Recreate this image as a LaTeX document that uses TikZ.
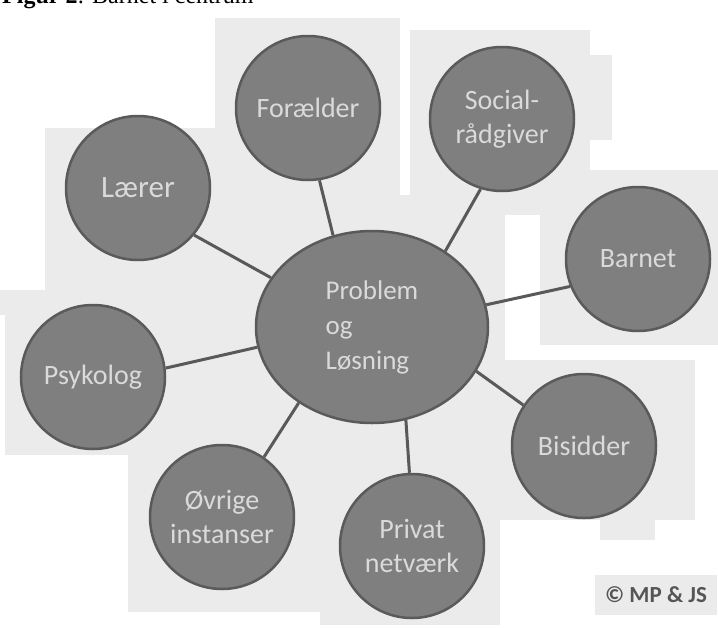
\documentclass[tikz,border=0pt]{standalone}
\usepackage{fontspec}
\setmainfont{Carlito}
\newfontfamily\capfont{Liberation Serif}
\usetikzlibrary{shapes.geometric}
\definecolor{bgg}{HTML}{EBEBEB}
\definecolor{circfill}{HTML}{7F7F7F}
\definecolor{circline}{HTML}{5A5A5A}
\definecolor{txtc}{HTML}{DADADA}
\definecolor{linec}{HTML}{595959}
\definecolor{copyc}{HTML}{555555}
\tikzset{
  bubble/.style={circle, draw=circline, line width=2.5pt, fill=circfill,
    minimum size=144pt, inner sep=0pt, text=txtc,
    font=\fontsize{28}{34}\selectfont, align=center},
  hub/.style={ellipse, draw=circline, line width=2.5pt, fill=circfill,
    minimum width=232pt, minimum height=192pt, inner sep=0pt, text=txtc,
    font=\fontsize{27}{35}\selectfont, align=left},
  link/.style={draw=linec, line width=3pt},
  patch/.style={fill=bgg, draw=none},
}
\begin{document}
\begin{tikzpicture}[x=1pt,y=-1pt]
\useasboundingbox (0,0) rectangle (718,627);
% background patches
\fill[patch] (215,18) rectangle (400,200);
\fill[patch] (410,30) rectangle (590,215);
\fill[patch] (590,55) rectangle (612,140);
\fill[patch] (45,128) rectangle (240,292);
\fill[patch] (0,290) rectangle (255,315);
\fill[patch] (540,170) rectangle (718,345);
\fill[patch] (230,195) rectangle (505,465);
\fill[patch] (5,300) rectangle (250,455);
\fill[patch] (128,455) rectangle (320,612);
\fill[patch] (480,360) rectangle (695,520);
\fill[patch] (320,440) rectangle (500,625);
\fill[patch] (600,460) rectangle (655,540);
% caption (cut at top, as in the reference)
\node[anchor=base west, inner sep=0pt] (cap) at (2,3)
  {\capfont\fontsize{24}{24}\selectfont\textbf{Figur 2}: Barnet i centrum};
% nodes
\node[hub] (center) at (372,327) {Problem\\og\\Løsning};
\node[bubble] (foraelder) at (308,108) {Forælder};
\node[bubble] (social) at (502,119) {Social-\\rådgiver};
\node[bubble, font=\fontsize{31}{36}\selectfont] (laerer) at (138,188) {Lærer};
\node[bubble] (barnet) at (638,259) {Barnet};
\node[bubble] (psykolog) at (93,377) {Psykolog};
\node[bubble] (bisidder) at (584,446) {Bisidder};
\node[bubble] (ovrige) at (222,517) {Øvrige\\instanser};
\node[bubble] (privat) at (412,546) {Privat\\netværk};
% connectors
\draw[link] (foraelder.-81) -- (center.113);
\draw[link] (social.-107) -- (center.46);
\draw[link] (laerer.-40) -- (center.154);
\draw[link] (barnet.202) -- (center.11);
\draw[link] (psykolog.7) -- (center.190);
\draw[link] (bisidder.146) -- (center.-23);
\draw[link] (ovrige.55) -- (center.226);
\draw[link] (privat.92) -- (center.-70);
% copyright
\node[fill=bgg, minimum width=122pt, minimum height=40pt, inner sep=0pt,
  text=copyc, font=\bfseries\fontsize{23}{23}\selectfont] (copy) at (656,595)
  {© MP \& JS};
\end{tikzpicture}
\end{document}
